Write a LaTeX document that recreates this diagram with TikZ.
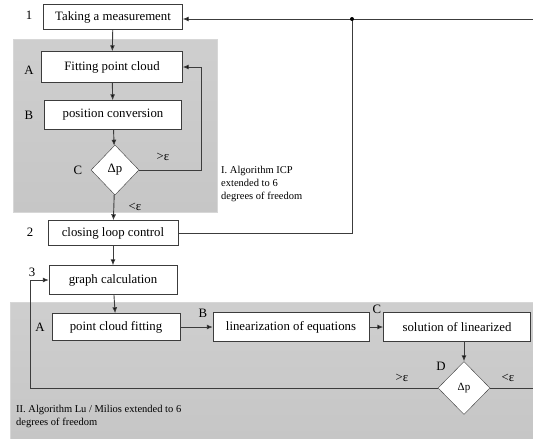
\documentclass[tikz,border=0pt]{standalone}
\usepackage{fontspec}
\setmainfont{Liberation Serif}
\usetikzlibrary{shapes.geometric,arrows.meta}
\definecolor{panelgray}{HTML}{C6C6C6}
\definecolor{linegray}{HTML}{3C3C3C}
\tikzset{
  stepbox/.style={draw=linegray,fill=white,rectangle,inner sep=0pt},
  test/.style={draw=linegray,fill=white,diamond,aspect=1,minimum width=48pt,minimum height=50pt,inner sep=0pt},
  flow/.style={draw=linegray,line width=0.9pt,-{Latex[length=6pt,width=5pt,fill=black]}},
  wire/.style={draw=linegray,line width=0.9pt},
  panel/.style={top color=panelgray!85!white,bottom color=panelgray,draw=panelgray!70!white}
}
\begin{document}
\begin{tikzpicture}[x=1pt,y=-1pt,font=\fontsize{12.8}{14}\selectfont]
      \useasboundingbox (0,0) rectangle (533,439);

      % shaded panels
      \path[panel] (13,39) rectangle (217,212);
      \path[panel] (10,302) rectangle (533,439);

      \begin{scope}[every node/.style={stepbox}]
        \node[minimum width=139pt,minimum height=25pt] (meas) at (113,17)  {Taking a measurement};
        \node[minimum width=141pt,minimum height=31pt] (fitA) at (112,67)  {Fitting point cloud};
        \node[minimum width=137pt,minimum height=29pt] (posB) at (113,115) {position conversion};
        \node[minimum width=130pt,minimum height=25pt] (loop) at (113,233) {closing loop control};
        \node[minimum width=128pt,minimum height=29pt] (graph) at (113,280) {graph calculation};
        \node[minimum width=128pt,minimum height=27pt] (pcf) at (116,327) {point cloud fitting};
        \node[minimum width=156pt,minimum height=29pt] (lin) at (291,327) {linearization of equations};
        \node[minimum width=147pt,minimum height=29pt] (sol) at (457,327) {solution of linearized};
      \end{scope}

      \node[test] (dpC) at (115,170) {Δp};
      \node[test,minimum width=52pt,minimum height=53pt,font=\fontsize{11}{13}\selectfont] (dpD) at (464,388) {Δp};

      \coordinate (jn) at (352,19);
      \coordinate (rtop) at (533,19);
      \coordinate (rbot) at (533,388);

      % labels
      \begin{scope}[every node/.style={inner sep=0pt}]
        \node (n1) at (29,15)  {1};
        \node (lA) at (29,70)  {A};
        \node (lB) at (29,115) {B};
        \node (lC) at (78,170) {C};
        \node (gtC) at (163,157) {>ε};
        \node (ltC) at (135,207) {<ε};
        \node (n2) at (30,232) {2};
        \node (n3) at (32,272) {3};
        \node (lA2) at (40,327) {A};
        \node (lB2) at (203,313) {B};
        \node (lC2) at (377,309) {C};
        \node (lD) at (441,366) {D};
        \node (gtD) at (402,378) {>ε};
        \node (ltD) at (508,378) {<ε};
      \end{scope}

      \begin{scope}[every node/.style={align=left,inner sep=0pt,font=\fontsize{10.5}{13}\selectfont}]
        \node[anchor=north west] (capI) at (221,166) {I. Algorithm ICP\\extended to 6\\degrees of freedom};
        \node[anchor=north west] (capII) at (16,405) {II. Algorithm Lu / Milios extended to 6\\degrees of freedom};
      \end{scope}

      % connectors
      \path[flow] (meas) -- (fitA);
      \path[flow] (fitA) -- (posB);
      \path[flow] (posB) -- (dpC);
      \path[flow] (dpC) -- (loop);
      \path[flow] (dpC.east) -- (201,170) |- (fitA.east);
      \path[flow] (loop) -- (graph);
      \path[flow] (graph) -- (pcf);
      \path[flow] (pcf) -- (lin);
      \path[flow] (lin) -- (sol);
      \path[flow] (sol.south -| dpD) -- (dpD);
      \path[flow] (dpD.west) -- (30,388) |- (graph.west);
      \path[wire] (loop.east) -| (jn);
      \path[flow] (rtop) -- (meas.east |- rtop);
      \path[wire] (dpD.east) -- (rbot);
      \fill[black] (jn) circle (2pt);

\end{tikzpicture}
\end{document}
